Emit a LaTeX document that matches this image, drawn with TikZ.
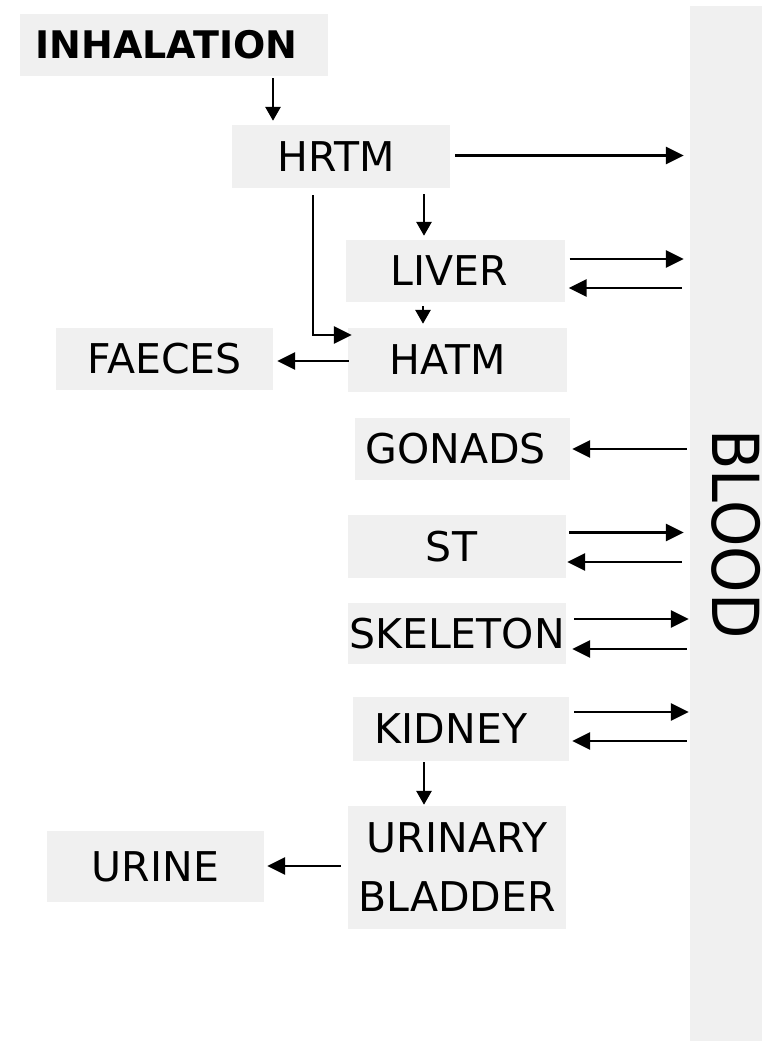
\documentclass[tikz,border=0pt]{standalone}
\usepackage{fontspec}
\setmainfont{DejaVu Sans}
\usetikzlibrary{arrows.meta,calc}
\definecolor{boxgray}{HTML}{F0F0F0}
\tikzset{
  box/.style={fill=boxgray, inner sep=0pt, minimum width=218pt, minimum height=63pt,
    font=\fontsize{41}{59}\selectfont},
  shl/.style={execute at begin node={\hspace*{-#1}}},
  arr/.style={line width=2.9pt, -{Triangle[length=18pt,width=17pt]}},
  sarr/.style={line width=2.9pt, -{Triangle[length=14pt,width=15pt]}},
}
\begin{document}
\begin{tikzpicture}[x=1pt,y=-1pt]
\useasboundingbox (0,0) rectangle (762,1041);
\clip (0,0) rectangle (762,1041);
% blood
\node[fill=boxgray, inner sep=0pt, minimum width=110pt, minimum height=1095pt] (blood) at (745,553.5) {};
\node[rotate=-90, inner sep=0pt, font=\fontsize{59}{70}\selectfont] (bloodtxt) at (736,534) {\scalebox{1}[1.1]{BLOOD}};
% boxes
\node[box, minimum width=308pt, minimum height=62pt, font=\fontsize{38}{50}\selectfont\bfseries, shl=15pt] (inh) at (174,45) {INHALATION};
\node[box, shl=10pt] (hrtm) at (341,156.5) {HRTM};
\node[box, minimum width=219pt, minimum height=62pt, shl=12pt] (liver) at (455,271) {LIVER};
\node[box, minimum width=219pt, minimum height=64pt, shl=19pt] (hatm) at (457.5,360) {HATM};
\node[box, minimum width=217pt, minimum height=62pt] (faeces) at (164.5,359) {FAECES};
\node[box, minimum width=215pt, minimum height=62pt, shl=14pt] (gonads) at (462.5,449) {GONADS};
\node[box, shl=11pt] (st) at (457,546.5) {ST};
\node[box, minimum height=61pt] (skel) at (457,633.5) {SKELETON};
\node[box, minimum width=216pt, minimum height=64pt, shl=20pt] (kidney) at (461,729) {KIDNEY};
\node[box, minimum height=123pt, align=center] (ub) at (457,867.5) {URINARY\\BLADDER};
\node[box, minimum width=217pt, minimum height=71pt] (urine) at (155.5,866.5) {URINE};
% connectors
\draw[sarr] ($(inh.south)+(99,2)$) -- ($(hrtm.north)+(-68,-4)$);
\draw[arr] ($(hrtm.east)+(5,-1)$) -- ($(hrtm.east -| blood.west)+(-6,-1)$);
\draw[sarr] ($(hrtm.south)+(83,6)$) -- ($(liver.north)+(-31,-4)$);
\draw[arr] ($(hrtm.south)+(-28,7)$) |- ($(hatm.west)+(4,-25)$);
\draw[sarr] ($(liver.south)+(-32,4)$) -- ($(hatm.north)+(-34.5,-4)$);
\draw[arr] ($(liver.east)+(5,-12)$) -- ($(liver.east -| blood.west)+(-6,-12)$);
\draw[arr] ($(liver.east -| blood.west)+(-8,17)$) -- ($(liver.east)+(4,17)$);
\draw[arr] ($(hatm.west)+(1,1)$) -- ($(faeces.east)+(4,2)$);
\draw[arr] ($(gonads.east -| blood.west)+(-3,0)$) -- ($(gonads.east)+(2,0)$);
\draw[arr] ($(st.east)+(3,-14)$) -- ($(st.east -| blood.west)+(-6,-14)$);
\draw[arr] ($(st.east -| blood.west)+(-8,15.5)$) -- ($(st.east)+(1,15.5)$);
\draw[arr] ($(skel.east)+(8,-14.5)$) -- ($(skel.east -| blood.west)+(-1,-14.5)$);
\draw[arr] ($(skel.east -| blood.west)+(-3,15.5)$) -- ($(skel.east)+(6,15.5)$);
\draw[arr] ($(kidney.east)+(5,-17)$) -- ($(kidney.east -| blood.west)+(-1,-17)$);
\draw[arr] ($(kidney.east -| blood.west)+(-3,12)$) -- ($(kidney.east)+(3,12)$);
\draw[sarr] ($(kidney.south)+(-37,1)$) -- ($(ub.north)+(-33,-1)$);
\draw[arr] ($(ub.west)+(-7,-1.5)$) -- ($(urine.east)+(3,-0.5)$);
\end{tikzpicture}
\end{document}
